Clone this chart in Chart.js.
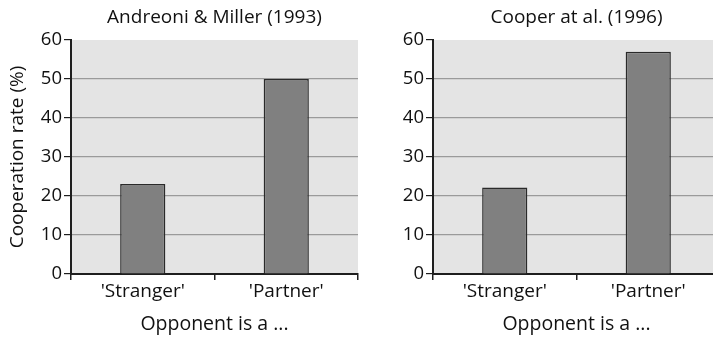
<!DOCTYPE html>
<html>
<head>
<meta charset="utf-8">
<script src="https://cdn.jsdelivr.net/npm/chart.js@4"></script>
<style>
    html, body { margin: 0; padding: 0; background: #fff; }
    .wrap { position: relative; width: 713px; height: 339px; overflow: hidden; }
    .panel { position: absolute; top: 0; width: 362px; height: 339px; }
    #leftPanel { left: 0; }
    #rightPanel { left: 362px; }
</style>
</head>
<body>
<div class="wrap">
    <div class="panel" id="leftPanel"><canvas id="andreoniChart"></canvas></div>
    <div class="panel" id="rightPanel"><canvas id="cooperChart"></canvas></div>
</div>
<script>
// Cooperation rates (%) by opponent type
const categories = ["'Stranger'", "'Partner'"];
const andreoniValues = [23.1, 50];
const cooperValues = [22.2, 57];
const yMin = 0;
const yMax = 60;
const yStep = 10;

const FONT = "'Open Sans', sans-serif";
const AXIS_COLOR = '#1e1e1e';

// grey panel behind the bars
const plotBackground = {
    id: 'plotBackground',
    beforeDraw(chart) {
        const { ctx, chartArea } = chart;
        ctx.save();
        ctx.fillStyle = '#e4e4e4';
        ctx.fillRect(chartArea.left, chartArea.top, chartArea.right - chartArea.left, chartArea.bottom - chartArea.top);
        ctx.restore();
    }
};

function makeChart(canvasId, title, values, showYTitle) {
    const ctx = document.getElementById(canvasId).getContext('2d');
    return new Chart(ctx, {
        type: 'bar',
        data: {
            labels: categories,
            datasets: [{
                data: values,
                backgroundColor: '#808080',
                borderColor: '#2a2a2a',
                borderWidth: 1.5,
                categoryPercentage: 1,
                barPercentage: 0.315
            }]
        },
        plugins: [plotBackground],
        options: {
            responsive: true,
            maintainAspectRatio: false,
            animation: false,
            layout: {
                padding: { top: 0, right: 4, bottom: 0, left: 0 }
            },
            plugins: {
                legend: { display: false },
                tooltip: { enabled: false },
                title: {
                    display: true,
                    text: title,
                    fullSize: false,
                    color: '#111',
                    font: { family: FONT, size: 19, weight: 'normal', lineHeight: 1.2 },
                    padding: { top: 6, bottom: 11.2 }
                }
            },
            scales: {
                x: {
                    afterFit(scale) { scale.height = 65; },
                    border: { display: true, color: AXIS_COLOR, width: 2 },
                    grid: {
                        offset: true,
                        drawOnChartArea: false,
                        drawTicks: true,
                        tickLength: 6,
                        tickColor: AXIS_COLOR,
                        lineWidth: 1.5
                    },
                    ticks: {
                        color: '#111',
                        padding: 0,
                        font: { family: FONT, size: 19 }
                    },
                    title: {
                        display: true,
                        text: 'Opponent is a ...',
                        color: '#111',
                        font: { family: FONT, size: 19.5 },
                        padding: { top: 0, bottom: 3 }
                    }
                },
                y: {
                    min: yMin,
                    max: yMax,
                    afterFit(scale) { scale.width = 71; },
                    border: { display: true, color: AXIS_COLOR, width: 2 },
                    grid: {
                        color: c => (c.tick && (c.tick.value === yMax || c.tick.value === yMin)) ? 'rgba(0,0,0,0)' : '#9a9a9a',
                        lineWidth: 1.2,
                        drawTicks: true,
                        tickLength: 7,
                        tickColor: AXIS_COLOR
                    },
                    ticks: {
                        stepSize: yStep,
                        color: '#111',
                        padding: 2,
                        font: { family: FONT, size: 18.5 }
                    },
                    title: {
                        display: showYTitle,
                        text: 'Cooperation rate (%)',
                        color: '#111',
                        font: { family: FONT, size: 19 },
                        padding: { top: 6, bottom: 0 }
                    }
                }
            }
        }
    });
}

makeChart('andreoniChart', 'Andreoni & Miller (1993)', andreoniValues, true);
makeChart('cooperChart', 'Cooper at al. (1996)', cooperValues, false);
</script>
</body>
</html>
